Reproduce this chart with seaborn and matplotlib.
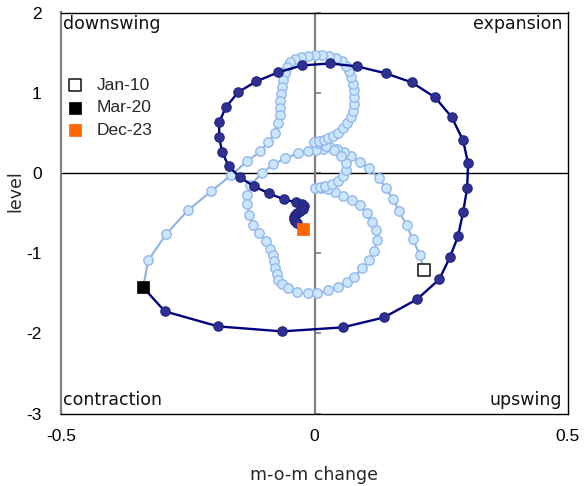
import matplotlib
matplotlib.use("Agg")
import matplotlib.pyplot as plt
import seaborn as sns
import numpy as np

# ---- data: light series Jan-10 .. Mar-20 (m-o-m change, level) ----
light_x = [0.216, 0.208, 0.194, 0.182, 0.167, 0.155, 0.141, 0.127, 0.107, 0.090,
           0.072, 0.058, 0.044, 0.031, 0.017, 0.003,
           -0.013, -0.033, -0.058, -0.082, -0.104, -0.127,
           -0.133, -0.133, -0.129, -0.121, -0.109, -0.096, -0.088, -0.082, -0.080, -0.078,
           -0.074, -0.072, -0.064, -0.052, -0.035, -0.013, 0.005, 0.027, 0.046, 0.064,
           0.078, 0.094, 0.107, 0.117, 0.123, 0.121, 0.113, 0.104, 0.090, 0.074,
           0.056, 0.040, 0.027, 0.013, 0.001, 0.011, 0.021, 0.035, 0.046, 0.056,
           0.062, 0.062,
           0.052, 0.038, 0.023, 0.007, -0.001, 0.009, 0.019, 0.027, 0.036, 0.046,
           0.056, 0.064, 0.072,
           0.076, 0.078, 0.078, 0.078, 0.076, 0.072, 0.068, 0.062, 0.054, 0.042,
           0.029, 0.015, 0.001, -0.013, -0.027, -0.038, -0.048, -0.054, -0.058, -0.062,
           -0.064, -0.066, -0.068, -0.068, -0.068, -0.072, -0.078, -0.092, -0.107, -0.133,
           -0.165, -0.204, -0.250, -0.293, -0.328, -0.338]
light_y = [-1.216, -1.029, -0.829, -0.655, -0.480, -0.330, -0.193, -0.069, 0.056, 0.131,
           0.206, 0.256, 0.293, 0.318, 0.293, 0.281,
           0.268, 0.243, 0.181, 0.106, -0.006, -0.156,
           -0.281, -0.393, -0.530, -0.655, -0.754, -0.854, -0.954, -1.029, -1.104, -1.191,
           -1.266, -1.340, -1.390, -1.440, -1.490, -1.503, -1.503, -1.465, -1.428, -1.365,
           -1.303, -1.191, -1.091, -0.979, -0.842, -0.717, -0.617, -0.505, -0.405, -0.343,
           -0.293, -0.243, -0.206, -0.193, -0.193, -0.181, -0.168, -0.143, -0.106, -0.044,
           0.031, 0.118,
           0.206, 0.281, 0.330, 0.368, 0.380, 0.393, 0.405, 0.430, 0.455, 0.493,
           0.555, 0.617, 0.692,
           0.767, 0.854, 0.941, 1.029, 1.103, 1.191, 1.266, 1.328, 1.390, 1.428,
           1.453, 1.465, 1.465, 1.453, 1.440, 1.415, 1.378, 1.315, 1.241, 1.153,
           1.066, 0.979, 0.892, 0.804, 0.717, 0.617, 0.493, 0.380, 0.268, 0.143,
           -0.031, -0.231, -0.468, -0.767, -1.091, -1.428]

# ---- data: dark series Mar-20 .. Dec-23 ----
dark_x = [-0.338, -0.295, -0.190, -0.064, 0.056, 0.137, 0.202, 0.246, 0.267, 0.283,
          0.293, 0.301, 0.303, 0.293, 0.271, 0.238, 0.192, 0.141, 0.084, 0.031,
          -0.025, -0.072, -0.115, -0.151, -0.175, -0.188, -0.188, -0.182, -0.169, -0.147,
          -0.119, -0.090, -0.060, -0.036, -0.025, -0.021, -0.023, -0.029, -0.035, -0.038,
          -0.040, -0.040, -0.038, -0.035, -0.023]
dark_y = [-1.428, -1.727, -1.914, -1.976, -1.926, -1.802, -1.577, -1.328, -1.054, -0.792,
          -0.493, -0.193, 0.118, 0.405, 0.692, 0.941, 1.128, 1.241, 1.328, 1.365,
          1.340, 1.253, 1.141, 1.004, 0.817, 0.630, 0.443, 0.256, 0.081, -0.056,
          -0.168, -0.256, -0.330, -0.368, -0.393, -0.418, -0.455, -0.480, -0.505, -0.530,
          -0.555, -0.580, -0.605, -0.630, -0.705]

legend_labels = ["Jan-10", "Mar-20", "Dec-23"]
quadrant_labels = ["downswing", "expansion", "contraction", "upswing"]
x_ticks = [-0.5, 0, 0.5]
y_ticks = [-3, -2, -1, 0, 1, 2]

sns.set_style("white")
plt.rcParams["font.family"] = ["Liberation Sans", "DejaVu Sans"]

fig = plt.figure(figsize=(5.85, 4.86), dpi=100)
ax = fig.add_axes([61 / 585, 1 - 413.5 / 486, 507 / 585, 401 / 486])

# reference lines
ax.axhline(0, color="black", lw=1.0, zorder=0.5)
ax.axvline(0, color="#808080", lw=1.6, zorder=0.5)

light_line = "#8fb2e0"
light_fill = "#cce6ff"
light_edge = "#94b8ea"
dark_line = "#000080"
dark_fill = "#2e3192"
dark_edge = "#22237e"

sns.lineplot(x=light_x, y=light_y, sort=False, estimator=None, color=light_line,
             lw=1.5, ax=ax, zorder=1)
sns.scatterplot(x=light_x, y=light_y, s=46, color=light_fill, edgecolor=light_edge,
                linewidth=1.0, ax=ax, zorder=2)
sns.lineplot(x=dark_x, y=dark_y, sort=False, estimator=None, color=dark_line,
             lw=1.7, ax=ax, zorder=3)
sns.scatterplot(x=dark_x, y=dark_y, s=46, color=dark_fill, edgecolor=dark_edge,
                linewidth=0.8, ax=ax, zorder=4)

# highlighted months
sns.scatterplot(x=[light_x[0]], y=[light_y[0]], marker="s", s=80, color="white",
                edgecolor="#222222", linewidth=1.2, ax=ax, zorder=6, label=legend_labels[0])
sns.scatterplot(x=[dark_x[0]], y=[dark_y[0]], marker="s", s=80, color="black",
                edgecolor="black", linewidth=0.5, ax=ax, zorder=6, label=legend_labels[1])
sns.scatterplot(x=[dark_x[-1]], y=[dark_y[-1]], marker="s", s=80, color="#ff6600",
                edgecolor="#ff6600", linewidth=0.5, ax=ax, zorder=6, label=legend_labels[2])

ax.set_xlim(-0.5, 0.5)
ax.set_ylim(-3, 2)
ax.set_xticks(x_ticks)
ax.set_xticklabels(["-0.5", "0", "0.5"])
ax.set_yticks(y_ticks)
ax.set_yticklabels([str(v) for v in y_ticks])
ax.tick_params(axis="both", length=0, labelsize=12.5, colors="black")
ax.tick_params(axis="x", pad=11)
ax.tick_params(axis="y", pad=14)

for side in ["top", "right", "bottom"]:
    ax.spines[side].set_color("black")
    ax.spines[side].set_linewidth(1.0)
ax.spines["left"].set_color("#808080")
ax.spines["left"].set_linewidth(1.6)

# tick marks on the x=0 axis line
sec = ax.secondary_yaxis(0.5)
sec.spines["right"].set_visible(False)
sec.spines["left"].set_visible(False)
sec.set_yticks(y_ticks)
sec.set_yticklabels([])
sec.tick_params(axis="y", direction="out", length=4, width=1.2, color="#808080")

qfont = dict(family=["DejaVu Sans"], fontsize=12.5, color="#111111")
ax.text(0.003, 0.993, quadrant_labels[0], transform=ax.transAxes, ha="left", va="top", **qfont)
ax.text(0.988, 0.993, quadrant_labels[1], transform=ax.transAxes, ha="right", va="top", **qfont)
ax.text(0.003, 0.012, quadrant_labels[2], transform=ax.transAxes, ha="left", va="bottom", **qfont)
ax.text(0.988, 0.012, quadrant_labels[3], transform=ax.transAxes, ha="right", va="bottom", **qfont)

ax.set_xlabel("m-o-m change", family=["DejaVu Sans"], fontsize=12.5, labelpad=16)
ax.set_ylabel("level", family=["DejaVu Sans"], fontsize=12.5)
ax.yaxis.set_label_coords(-0.073, 0.555)

leg = ax.legend(loc="upper left", bbox_to_anchor=(0.01, 0.838), frameon=False,
                fontsize=12.5, handlelength=1.0, handletextpad=0.75, labelspacing=0.42,
                borderpad=0, borderaxespad=0)

fig.savefig("out.png", dpi=100)
